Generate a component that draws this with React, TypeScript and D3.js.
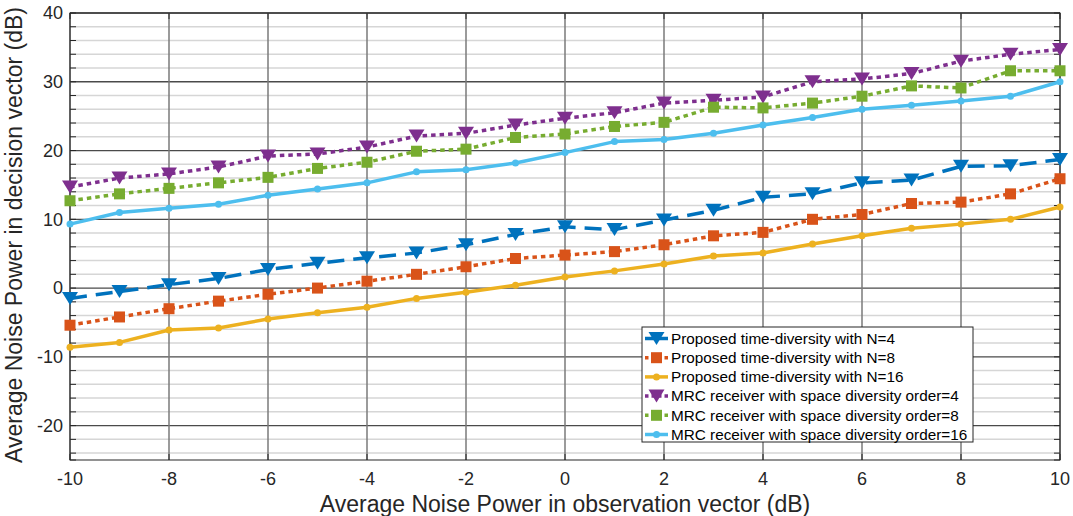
import React, { useEffect, useRef } from 'react';
import * as d3 from 'd3';

// Average noise power in observation vector (dB)
const xValues = [-10, -9, -8, -7, -6, -5, -4, -3, -2, -1, 0, 1, 2, 3, 4, 5, 6, 7, 8, 9, 10];

// Average noise power in decision vector (dB)
const timeDivN4 = [-1.5, -0.5, 0.5, 1.4, 2.7, 3.6, 4.4, 5.1, 6.3, 7.8, 8.9, 8.5, 9.9, 11.3, 13.2, 13.7, 15.3, 15.7, 17.7, 17.8, 18.7];
const timeDivN8 = [-5.4, -4.2, -3.0, -1.9, -0.9, 0.0, 1.0, 2.0, 3.1, 4.3, 4.8, 5.3, 6.3, 7.6, 8.1, 10.0, 10.7, 12.3, 12.5, 13.7, 15.9];
const timeDivN16 = [-8.6, -7.9, -6.1, -5.8, -4.5, -3.6, -2.8, -1.5, -0.6, 0.4, 1.6, 2.5, 3.5, 4.65, 5.1, 6.4, 7.6, 8.7, 9.3, 10.0, 11.8];
const mrcOrder4 = [14.7, 16.0, 16.6, 17.6, 19.2, 19.5, 20.5, 22.1, 22.5, 23.7, 24.7, 25.5, 26.9, 27.3, 27.8, 30.0, 30.4, 31.2, 33.0, 34.0, 34.7];
const mrcOrder8 = [12.7, 13.7, 14.5, 15.3, 16.1, 17.4, 18.3, 19.9, 20.2, 21.9, 22.4, 23.5, 24.1, 26.3, 26.2, 26.9, 27.9, 29.4, 29.1, 31.6, 31.6];
const mrcOrder16 = [9.3, 11.0, 11.6, 12.2, 13.5, 14.4, 15.3, 16.9, 17.2, 18.2, 19.7, 21.3, 21.6, 22.5, 23.7, 24.8, 26.0, 26.6, 27.2, 27.9, 30.0];

const xTicks = [-10, -8, -6, -4, -2, 0, 2, 4, 6, 8, 10];
const yTicks = [-20, -10, 0, 10, 20, 30, 40];
const yMinorTicks = d3.range(-24, 41, 2);

type Marker = 'tri' | 'square' | 'dot';

interface Series {
  name: string;
  values: number[];
  color: string;
  dash: string | null;
  legendDash: string | null;
  marker: Marker;
}

const series: Series[] = [
  { name: 'Proposed time-diversity with N=4', values: timeDivN4, color: '#0072BD', dash: '17 9', legendDash: '9 5', marker: 'tri' },
  { name: 'Proposed time-diversity with N=8', values: timeDivN8, color: '#D95319', dash: '4.5 4', legendDash: '3.5 3', marker: 'square' },
  { name: 'Proposed time-diversity with N=16', values: timeDivN16, color: '#EDB120', dash: null, legendDash: null, marker: 'dot' },
  { name: 'MRC receiver with space diversity order=4', values: mrcOrder4, color: '#7E2F8E', dash: '4.5 4', legendDash: '3.5 3', marker: 'tri' },
  { name: 'MRC receiver with space diversity order=8', values: mrcOrder8, color: '#77AC30', dash: '4.5 4', legendDash: '3.5 3', marker: 'square' },
  { name: 'MRC receiver with space diversity order=16', values: mrcOrder16, color: '#4DBEEE', dash: null, legendDash: null, marker: 'dot' },
];

const W = 1073;
const H = 516;
const FONT = '"Liberation Sans", Arial, Helvetica, sans-serif';

const App: React.FC = () => {
  const svgRef = useRef<SVGSVGElement | null>(null);

  useEffect(() => {
    const root = d3.select(svgRef.current);
    root.selectAll('*').remove();

    const margin = { top: 13, right: 13, bottom: 56, left: 70 };
    const innerW = W - margin.left - margin.right;
    const innerH = H - margin.top - margin.bottom;

    const x = d3.scaleLinear().domain([-10, 10]).range([0, innerW]);
    const y = d3.scaleLinear().domain([-25, 40]).range([innerH, 0]);

    const g = root.append('g').attr('transform', `translate(${margin.left},${margin.top})`);

    g.append('rect').attr('width', innerW).attr('height', innerH).attr('fill', '#fff');

    // minor y grid
    g.append('g')
      .selectAll('line')
      .data(yMinorTicks.filter(v => v % 10 !== 0))
      .enter()
      .append('line')
      .attr('x1', 0).attr('x2', innerW)
      .attr('y1', d => y(d)).attr('y2', d => y(d))
      .attr('stroke', '#d6d6d6').attr('stroke-width', 1.5);

    // major y grid
    g.append('g')
      .selectAll('line')
      .data(yTicks)
      .enter()
      .append('line')
      .attr('x1', 0).attr('x2', innerW)
      .attr('y1', d => y(d)).attr('y2', d => y(d))
      .attr('stroke', '#4a4a4a').attr('stroke-width', 1.3);

    // x grid
    g.append('g')
      .selectAll('line')
      .data(xTicks)
      .enter()
      .append('line')
      .attr('x1', d => x(d)).attr('x2', d => x(d))
      .attr('y1', 0).attr('y2', innerH)
      .attr('stroke', '#7a7a7a').attr('stroke-width', 1.5);

    // tick marks, inward on all four sides
    const ticks = g.append('g').attr('stroke', '#262626').attr('stroke-width', 1);
    yMinorTicks.concat([-25]).forEach(v => {
      ticks.append('line').attr('x1', 0).attr('x2', 6).attr('y1', y(v)).attr('y2', y(v));
      ticks.append('line').attr('x1', innerW - 6).attr('x2', innerW).attr('y1', y(v)).attr('y2', y(v));
    });
    xTicks.forEach(v => {
      ticks.append('line').attr('x1', x(v)).attr('x2', x(v)).attr('y1', innerH).attr('y2', innerH - 6);
      ticks.append('line').attr('x1', x(v)).attr('x2', x(v)).attr('y1', 0).attr('y2', 6);
    });

    g.append('rect')
      .attr('width', innerW).attr('height', innerH)
      .attr('fill', 'none').attr('stroke', '#262626').attr('stroke-width', 1);

    // tick labels
    g.append('g')
      .selectAll('text')
      .data(yTicks)
      .enter()
      .append('text')
      .attr('x', -7)
      .attr('y', d => y(d))
      .attr('dy', '0.35em')
      .attr('text-anchor', 'end')
      .attr('font-family', FONT)
      .attr('font-size', 18)
      .attr('fill', '#262626')
      .text(d => d);

    g.append('g')
      .selectAll('text')
      .data(xTicks)
      .enter()
      .append('text')
      .attr('x', d => x(d))
      .attr('y', innerH + 25)
      .attr('text-anchor', 'middle')
      .attr('font-family', FONT)
      .attr('font-size', 18)
      .attr('fill', '#262626')
      .text(d => d);

    // axis titles
    g.append('text')
      .attr('x', innerW / 2)
      .attr('y', innerH + 52)
      .attr('text-anchor', 'middle')
      .attr('font-family', FONT)
      .attr('font-size', 23)
      .attr('fill', '#262626')
      .text('Average Noise Power in observation vector (dB)');

    g.append('text')
      .attr('transform', 'rotate(-90)')
      .attr('x', -innerH / 2 + 1.5)
      .attr('y', -48)
      .attr('text-anchor', 'middle')
      .attr('font-family', FONT)
      .attr('font-size', 23)
      .attr('fill', '#262626')
      .text('Average Noise Power in decision vector (dB)');

    const drawMarker = (sel: d3.Selection<SVGGElement, unknown, null, undefined>, m: Marker, cx: number, cy: number, color: string) => {
      if (m === 'tri') {
        const w = 8, h = 6.5;
        sel.append('path')
          .attr('d', `M${cx - w},${cy - h}L${cx + w},${cy - h}L${cx},${cy + h}Z`)
          .attr('fill', color);
      } else if (m === 'square') {
        sel.append('rect')
          .attr('x', cx - 5.5).attr('y', cy - 5.5)
          .attr('width', 11).attr('height', 11)
          .attr('fill', color);
      } else {
        sel.append('circle').attr('cx', cx).attr('cy', cy).attr('r', 3.5).attr('fill', color);
      }
    };

    const line = d3.line<number>()
      .x((_, i) => x(xValues[i]))
      .y(d => y(d));

    series.forEach(s => {
      const sg = g.append('g');
      sg.append('path')
        .datum(s.values)
        .attr('d', line)
        .attr('fill', 'none')
        .attr('stroke', s.color)
        .attr('stroke-width', 3.5)
        .attr('stroke-dasharray', s.dash)
        .attr('stroke-linejoin', 'round');
      s.values.forEach((v, i) => drawMarker(sg, s.marker, x(xValues[i]), y(v), s.color));
    });

    // legend
    const legX = 642 - margin.left;
    const legY = 327 - margin.top;
    const rowH = 19.2;
    const leg = g.append('g').attr('transform', `translate(${legX},${legY})`);
    leg.append('rect')
      .attr('width', 331).attr('height', 115)
      .attr('fill', '#fff').attr('stroke', '#262626').attr('stroke-width', 1);
    series.forEach((s, i) => {
      const cy = 11.5 + i * rowH;
      const row = leg.append('g');
      row.append('line')
        .attr('x1', 3).attr('x2', 26)
        .attr('y1', cy).attr('y2', cy)
        .attr('stroke', s.color).attr('stroke-width', 3.5)
        .attr('stroke-dasharray', s.legendDash);
      drawMarker(row, s.marker, 14.5, cy, s.color);
      row.append('text')
        .attr('x', 29)
        .attr('y', cy)
        .attr('dy', '0.35em')
        .attr('font-family', FONT)
        .attr('font-size', 15.3)
        .attr('fill', '#000')
        .text(s.name);
    });
  }, []);

  return (
    <svg
      ref={svgRef}
      width={W}
      height={H}
      style={{ position: 'absolute', left: 0, top: 0, background: '#fff' }}
    />
  );
};

export default App;
